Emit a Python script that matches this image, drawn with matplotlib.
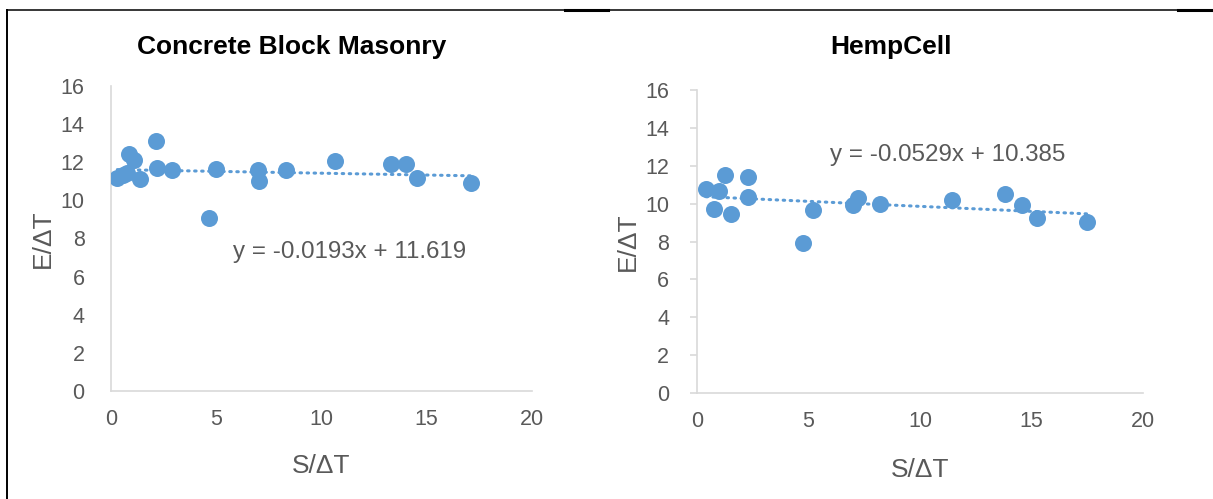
import numpy as np
import matplotlib.pyplot as plt
from matplotlib.lines import Line2D

plt.rcParams['font.family'] = ['Liberation Sans', 'DejaVu Sans']

# Concrete Block Masonry
cbm_x = [0.30, 0.55, 0.75, 0.87, 1.11, 1.38, 2.12, 2.19, 2.90, 4.66, 4.99, 7.00, 7.03, 8.31, 10.66, 13.29, 14.03, 14.52, 17.12]
cbm_y = [11.19, 11.35, 11.45, 12.43, 12.12, 11.12, 13.13, 11.68, 11.59, 9.08, 11.66, 11.61, 11.00, 11.61, 12.08, 11.89, 11.91, 11.16, 10.90]
cbm_fit = (-0.0193, 11.619)

# HempCell
hemp_x = [0.40, 0.99, 1.26, 0.76, 1.51, 2.27, 2.30, 4.75, 5.19, 6.98, 7.20, 8.21, 11.44, 13.83, 14.56, 15.23, 17.50]
hemp_y = [10.76, 10.67, 11.50, 9.70, 9.46, 11.39, 10.35, 7.93, 9.67, 9.93, 10.28, 10.00, 10.21, 10.51, 9.93, 9.26, 9.04]
hemp_fit = (-0.0529, 10.385)

BLUE = '#5B9BD5'
GREY = '#595959'
SPINE = '#D9D9D9'

W, H = 1213, 499
fig = plt.figure(figsize=(W / 100, H / 100), dpi=100)


def panel(rect, xs, ys, fit, title, title_x, eq_xy, ticks, xlpad):
    ax = fig.add_axes(rect)
    xs = np.array(xs)
    ax.scatter(xs, ys, s=150, color=BLUE, zorder=3, linewidths=0)
    lx = np.array([xs.min(), xs.max()])
    ax.plot(lx, fit[0] * lx + fit[1], color=BLUE, lw=2.2, ls=(0, (0.5, 1.8)),
            dash_capstyle='round', zorder=2)
    ax.set_xlim(0, 20)
    ax.set_ylim(0, 16)
    ax.set_xticks(range(0, 21, 5))
    ax.set_yticks(range(0, 17, 2))
    for s in ['top', 'right']:
        ax.spines[s].set_visible(False)
    for s in ['left', 'bottom']:
        ax.spines[s].set_color(SPINE)
        ax.spines[s].set_linewidth(1.2)
    ax.tick_params(axis='x', length=0, pad=13, labelsize=15.5, labelcolor=GREY)
    ax.tick_params(axis='y', length=5 if ticks else 0, color=SPINE, width=1.2,
                   pad=15 if ticks else 19, labelsize=15.5, labelcolor=GREY)
    ax.set_xlabel('S/ΔT', fontsize=19, color=GREY, labelpad=xlpad)
    ax.set_ylabel('E/ΔT', fontsize=19, color=GREY, labelpad=4)
    ax.text(eq_xy[0], eq_xy[1], f'y = {fit[0]:.4f}x + {fit[1]:.3f}', fontsize=17.4,
            color=GREY, va='center', ha='left')
    fig.text(title_x / W, 1 - 47 / H, title, fontsize=19, fontweight='bold',
             ha='center', va='center', color='black')
    return ax


panel([111 / W, 1 - 391 / H, 421 / W, 305 / H], cbm_x, cbm_y, cbm_fit,
      'Concrete Block Masonry', 292, (5.8, 7.3), False, 17)
panel([697 / W, 1 - 393 / H, 446 / W, 303 / H], hemp_x, hemp_y, hemp_fit,
      'HempCell', 891, (5.96, 12.57), True, 19)

# page border lines
fig.add_artist(Line2D([7 / W, 1], [1 - 10 / H, 1 - 10 / H], color='black', lw=1.1))
fig.add_artist(Line2D([7 / W, 7 / W], [0, 1 - 10 / H], color='black', lw=1.4))
fig.add_artist(Line2D([565 / W, 608 / W], [1 - 10 / H] * 2, color='black', lw=2.2))
fig.add_artist(Line2D([1178 / W, 1], [1 - 10 / H] * 2, color='black', lw=2.2))

fig.savefig('out.png', dpi=100)
